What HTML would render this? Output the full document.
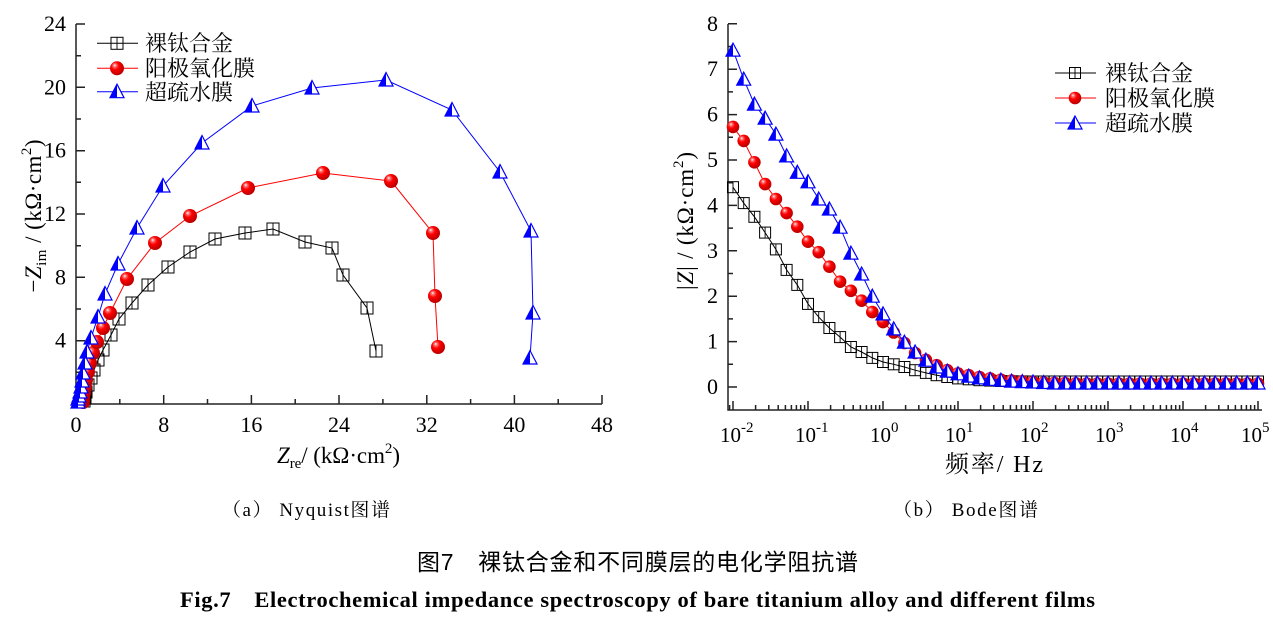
<!DOCTYPE html>
<html><head><meta charset="utf-8"><style>
html,body{margin:0;padding:0;background:#fff;overflow:hidden}
svg{display:block}
.ser{font-family:"Liberation Serif","Noto Serif CJK SC",serif}
.cjks{font-family:"Liberation Serif","Noto Serif CJK SC",serif}
.sans{font-family:"Liberation Sans","Noto Sans CJK SC",sans-serif}
</style></head><body>
<svg width="1273" height="619" viewBox="0 0 1273 619" xmlns="http://www.w3.org/2000/svg">
<defs>
<radialGradient id="rg" cx="0.4" cy="0.38" r="0.62" fx="0.33" fy="0.28">
<stop offset="0" stop-color="#ffffff"/><stop offset="0.18" stop-color="#ff7070"/><stop offset="0.45" stop-color="#ff0000"/><stop offset="1" stop-color="#b80000"/>
</radialGradient>
<g id="sqN"><rect x="-6" y="-6" width="12" height="12" fill="none" stroke="#000" stroke-width="1"/><path d="M0 -6V6" stroke="#000" stroke-width="0.9"/></g>
<g id="ciN"><circle r="7" fill="url(#rg)"/></g>
<g id="trN"><path d="M0 -7.5L7 6L-7 6Z" fill="#fff" stroke="#0000ff" stroke-width="1.2"/><path d="M0 -7.5L-7 6L0 6Z" fill="#0000ff"/></g>
<g id="sqB"><rect x="-5.5" y="-5.5" width="11" height="11" fill="none" stroke="#000" stroke-width="1"/><path d="M0 -5.5V5.5" stroke="#000" stroke-width="0.9"/></g>
<g id="ciB"><circle r="6.3" fill="url(#rg)"/></g>
<g id="trB"><path d="M0 -7L7 6L-7 6Z" fill="#fff" stroke="#0000ff" stroke-width="1.2"/><path d="M0 -7L-7 6L0 6Z" fill="#0000ff"/></g>
</defs>
<rect width="1273" height="619" fill="#fff"/>

<!-- ================= LEFT: Nyquist ================= -->
<g stroke="#222" stroke-width="1.5" fill="none">
<path d="M76 24V404H602"/>
<path d="M76 24h9M76 87.3h9M76 150.7h9M76 214h9M76 277.3h9M76 340.7h9"/>
<path d="M76 55.7h5M76 119h5M76 182.3h5M76 245.7h5M76 309h5M76 372.3h5"/>
<path d="M163.7 404v-9M251.4 404v-9M339 404v-9M426.8 404v-9M514.4 404v-9M602 404v-9"/>
<path d="M119.8 404v-5M207.5 404v-5M295.2 404v-5M382.9 404v-5M470.6 404v-5M558.2 404v-5"/>
</g>
<g class="ser" font-size="22" fill="#000" text-anchor="end">
<text x="66" y="31">24</text><text x="66" y="94.3">20</text><text x="66" y="157.7">16</text>
<text x="66" y="221">12</text><text x="66" y="284.3">8</text><text x="66" y="347.7">4</text>
</g>
<g class="ser" font-size="22" fill="#000" text-anchor="middle">
<text x="76" y="432">0</text><text x="163.7" y="432">8</text><text x="251.4" y="432">16</text>
<text x="339" y="432">24</text><text x="426.8" y="432">32</text><text x="514.4" y="432">40</text><text x="602" y="432">48</text>
</g>
<text class="ser" font-size="23" x="338.5" y="463" text-anchor="middle" textLength="123" lengthAdjust="spacing"><tspan font-style="italic">Z</tspan><tspan font-size="15" dy="5">re</tspan><tspan dy="-5">/ (kΩ·cm</tspan><tspan font-size="15" dy="-10">2</tspan><tspan dy="10">)</tspan></text>
<text class="ser" font-size="23" transform="translate(41,216) rotate(-90)" text-anchor="middle" textLength="153" lengthAdjust="spacing">−<tspan font-style="italic">Z</tspan><tspan font-size="15" dy="5">im</tspan><tspan dy="-5"> / (kΩ·cm</tspan><tspan font-size="15" dy="-10">2</tspan><tspan dy="10">)</tspan></text>

<!-- black -->
<polyline fill="none" stroke="#000" stroke-width="1" points="84,401 85,397 86,392 88,385 91,378 94,370 98,360 103,350 111,335 119,319 132,303 148,285 168,267 190,252 215,239 245,233 273,229 305,242 332,248 343,275 367,308 376,351"/>
<g>
<use href="#sqN" x="84" y="401"/><use href="#sqN" x="85" y="397"/><use href="#sqN" x="86" y="392"/><use href="#sqN" x="88" y="385"/><use href="#sqN" x="91" y="378"/><use href="#sqN" x="94" y="370"/><use href="#sqN" x="98" y="360"/><use href="#sqN" x="103" y="350"/><use href="#sqN" x="111" y="335"/><use href="#sqN" x="119" y="319"/><use href="#sqN" x="132" y="303"/><use href="#sqN" x="148" y="285"/><use href="#sqN" x="168" y="267"/><use href="#sqN" x="190" y="252"/><use href="#sqN" x="215" y="239"/><use href="#sqN" x="245" y="233"/><use href="#sqN" x="273" y="229"/><use href="#sqN" x="305" y="242"/><use href="#sqN" x="332" y="248"/><use href="#sqN" x="343" y="275"/><use href="#sqN" x="367" y="308"/><use href="#sqN" x="376" y="351"/>
</g>
<!-- red -->
<polyline fill="none" stroke="#ff0000" stroke-width="1" points="83,402 83,398 84,393 85,387 86,380 88,372 90,363 93,353 97,342 103,328 110,313 127,279 155,243 190,216 248,188 323,173 391,181 433,233 435,296 438,347"/>
<g>
<use href="#ciN" x="83" y="402"/><use href="#ciN" x="83" y="398"/><use href="#ciN" x="84" y="393"/><use href="#ciN" x="85" y="387"/><use href="#ciN" x="86" y="380"/><use href="#ciN" x="88" y="372"/><use href="#ciN" x="90" y="363"/><use href="#ciN" x="93" y="353"/><use href="#ciN" x="97" y="342"/><use href="#ciN" x="103" y="328"/><use href="#ciN" x="110" y="313"/><use href="#ciN" x="127" y="279"/><use href="#ciN" x="155" y="243"/><use href="#ciN" x="190" y="216"/><use href="#ciN" x="248" y="188"/><use href="#ciN" x="323" y="173"/><use href="#ciN" x="391" y="181"/><use href="#ciN" x="433" y="233"/><use href="#ciN" x="435" y="296"/><use href="#ciN" x="438" y="347"/>
</g>
<!-- blue -->
<polyline fill="none" stroke="#0000ff" stroke-width="1" points="78,402 78,399 79,396 80,392 81,387 82,381 83,373 85,363 87,352 91,338 98,317 105,294 118,264 137,228 163,186 202,143 252,106 312,88 386,80 452,110 500,172 531,231 533,313 530,358"/>
<g>
<use href="#trN" x="78" y="402"/><use href="#trN" x="78" y="399"/><use href="#trN" x="79" y="396"/><use href="#trN" x="80" y="392"/><use href="#trN" x="81" y="387"/><use href="#trN" x="82" y="381"/><use href="#trN" x="83" y="373"/><use href="#trN" x="85" y="363"/><use href="#trN" x="87" y="352"/><use href="#trN" x="91" y="338"/><use href="#trN" x="98" y="317"/><use href="#trN" x="105" y="294"/><use href="#trN" x="118" y="264"/><use href="#trN" x="137" y="228"/><use href="#trN" x="163" y="186"/><use href="#trN" x="202" y="143"/><use href="#trN" x="252" y="106"/><use href="#trN" x="312" y="88"/><use href="#trN" x="386" y="80"/><use href="#trN" x="452" y="110"/><use href="#trN" x="500" y="172"/><use href="#trN" x="531" y="231"/><use href="#trN" x="533" y="313"/><use href="#trN" x="530" y="358"/>
</g>
<!-- left legend -->
<path d="M97 43.3H138" stroke="#000" stroke-width="1"/><use href="#sqN" x="117" y="43.3"/>
<path d="M97 68.3H138" stroke="#ff0000" stroke-width="1"/><use href="#ciN" x="117" y="68.3"/>
<path d="M97 91.7H138" stroke="#0000ff" stroke-width="1"/><use href="#trN" x="117" y="91.7"/>
<g class="cjks" font-size="22" fill="#000">
<text x="145" y="51">裸钛合金</text><text x="145" y="76">阳极氧化膜</text><text x="145" y="100">超疏水膜</text>
</g>

<!-- ================= RIGHT: Bode ================= -->
<g stroke="#222" stroke-width="1.5" fill="none">
<path d="M728 24V410H1262"/>
<path d="M728 23.8h9M728 69.2h9M728 114.6h9M728 160h9M728 205.4h9M728 250.8h9M728 296.2h9M728 341.6h9M728 387h9"/>
<path d="M728 46.5h5M728 91.9h5M728 137.3h5M728 182.7h5M728 228.1h5M728 273.5h5M728 318.9h5M728 364.3h5"/>
<path d="M733 410v-9M808 410v-9M883 410v-9M958 410v-9M1033 410v-9M1108 410v-9M1183 410v-9M1258 410v-9"/>
<path d="M729.6 410v-5M755.6 410v-5M768.8 410v-5M778.2 410v-5M785.4 410v-5M791.4 410v-5M796.4 410v-5M800.7 410v-5M804.6 410v-5
M830.6 410v-5M843.8 410v-5M853.2 410v-5M860.4 410v-5M866.4 410v-5M871.4 410v-5M875.7 410v-5M879.6 410v-5
M905.6 410v-5M918.8 410v-5M928.2 410v-5M935.4 410v-5M941.4 410v-5M946.4 410v-5M950.7 410v-5M954.6 410v-5
M980.6 410v-5M993.8 410v-5M1003.2 410v-5M1010.4 410v-5M1016.4 410v-5M1021.4 410v-5M1025.7 410v-5M1029.6 410v-5
M1055.6 410v-5M1068.8 410v-5M1078.2 410v-5M1085.4 410v-5M1091.4 410v-5M1096.4 410v-5M1100.7 410v-5M1104.6 410v-5
M1130.6 410v-5M1143.8 410v-5M1153.2 410v-5M1160.4 410v-5M1166.4 410v-5M1171.4 410v-5M1175.7 410v-5M1179.6 410v-5
M1205.6 410v-5M1218.8 410v-5M1228.2 410v-5M1235.4 410v-5M1241.4 410v-5M1246.4 410v-5M1250.7 410v-5M1254.6 410v-5"/>
</g>
<g class="ser" font-size="22" fill="#000" text-anchor="end">
<text x="718" y="30.8">8</text><text x="718" y="76.2">7</text><text x="718" y="121.6">6</text><text x="718" y="167">5</text>
<text x="718" y="212.4">4</text><text x="718" y="257.8">3</text><text x="718" y="303.2">2</text><text x="718" y="348.6">1</text><text x="718" y="394">0</text>
</g>
<g class="ser" font-size="21" fill="#000">
<text x="720" y="442">10<tspan font-size="15" dy="-10">-2</tspan></text>
<text x="795" y="442">10<tspan font-size="15" dy="-10">-1</tspan></text>
<text x="870" y="442">10<tspan font-size="15" dy="-10">0</tspan></text>
<text x="945" y="442">10<tspan font-size="15" dy="-10">1</tspan></text>
<text x="1020" y="442">10<tspan font-size="15" dy="-10">2</tspan></text>
<text x="1095" y="442">10<tspan font-size="15" dy="-10">3</tspan></text>
<text x="1170" y="442">10<tspan font-size="15" dy="-10">4</tspan></text>
<text x="1241" y="442">10<tspan font-size="15" dy="-10">5</tspan></text>
</g>
<text class="ser" font-size="24" x="994" y="472" text-anchor="middle" textLength="98" lengthAdjust="spacing">频率/ Hz</text>
<text class="ser" font-size="23" transform="translate(693,221) rotate(-90)" text-anchor="middle" textLength="138" lengthAdjust="spacing">|<tspan font-style="italic">Z</tspan>| / (kΩ·cm<tspan font-size="15" dy="-10">2</tspan><tspan dy="10">)</tspan></text>

<!-- black bode -->
<polyline fill="none" stroke="#000" stroke-width="1" points="733,187.2 743.7,203.1 754.4,216.8 765.1,232.6 775.9,249.4 786.6,269.9 797.3,284.9 808,303.9 818.7,317.1 829.4,328 840.1,337.1 850.9,347 861.6,352 872.3,357.9 883,362 893.7,364.3 904.4,367 915.1,370.2 925.9,372.9 936.6,375.2 947.3,377 958,378.4 968.7,379.3 979.4,380.2 990.1,380.6 1000.9,381 1011.6,381.3 1022.3,381.4 1033,381.5 1258,381.5"/>
<g>
<use href="#sqB" x="733" y="187.2"/><use href="#sqB" x="743.7" y="203.1"/><use href="#sqB" x="754.4" y="216.8"/><use href="#sqB" x="765.1" y="232.6"/><use href="#sqB" x="775.9" y="249.4"/><use href="#sqB" x="786.6" y="269.9"/><use href="#sqB" x="797.3" y="284.9"/><use href="#sqB" x="808" y="303.9"/><use href="#sqB" x="818.7" y="317.1"/><use href="#sqB" x="829.4" y="328"/><use href="#sqB" x="840.1" y="337.1"/><use href="#sqB" x="850.9" y="347"/><use href="#sqB" x="861.6" y="352"/><use href="#sqB" x="872.3" y="357.9"/><use href="#sqB" x="883" y="362"/><use href="#sqB" x="893.7" y="364.3"/><use href="#sqB" x="904.4" y="367"/><use href="#sqB" x="915.1" y="370.2"/><use href="#sqB" x="925.9" y="372.9"/><use href="#sqB" x="936.6" y="375.2"/><use href="#sqB" x="947.3" y="377"/><use href="#sqB" x="958" y="378.4"/><use href="#sqB" x="968.7" y="379.3"/><use href="#sqB" x="979.4" y="380.2"/><use href="#sqB" x="990.1" y="380.6"/><use href="#sqB" x="1000.9" y="381"/><use href="#sqB" x="1011.6" y="381.3"/><use href="#sqB" x="1022.3" y="381.4"/><use href="#sqB" x="1033" y="381.5"/><use href="#sqB" x="1043.7" y="381.5"/><use href="#sqB" x="1054.4" y="381.5"/><use href="#sqB" x="1065.1" y="381.5"/><use href="#sqB" x="1075.9" y="381.5"/><use href="#sqB" x="1086.6" y="381.5"/><use href="#sqB" x="1097.3" y="381.5"/><use href="#sqB" x="1108" y="381.5"/><use href="#sqB" x="1118.7" y="381.5"/><use href="#sqB" x="1129.4" y="381.5"/><use href="#sqB" x="1140.1" y="381.5"/><use href="#sqB" x="1150.9" y="381.5"/><use href="#sqB" x="1161.6" y="381.5"/><use href="#sqB" x="1172.3" y="381.5"/><use href="#sqB" x="1183" y="381.5"/><use href="#sqB" x="1193.7" y="381.5"/><use href="#sqB" x="1204.4" y="381.5"/><use href="#sqB" x="1215.1" y="381.5"/><use href="#sqB" x="1225.9" y="381.5"/><use href="#sqB" x="1236.6" y="381.5"/><use href="#sqB" x="1247.3" y="381.5"/><use href="#sqB" x="1258" y="381.5"/>
</g>
<!-- red bode -->
<polyline fill="none" stroke="#ff0000" stroke-width="1" points="733,126.9 743.7,140.9 754.4,162.3 765.1,184.1 775.9,199 786.6,213.1 797.3,226.7 808,241.7 818.7,252.2 829.4,266.7 840.1,281.7 850.9,290.8 861.6,300.7 872.3,312.1 883,322.1 893.7,332.5 904.4,343 915.1,353 925.9,359.8 936.6,365.2 947.3,370.2 958,373.4 968.7,375.2 979.4,377 990.1,378.4 1000.9,379.7 1011.6,380.6 1022.3,381.3 1033,382 1043.7,382.5 1054.4,382.9 1065.1,383.1 1075.9,383.3 1258,383.5"/>
<g>
<use href="#ciB" x="733" y="126.9"/><use href="#ciB" x="743.7" y="140.9"/><use href="#ciB" x="754.4" y="162.3"/><use href="#ciB" x="765.1" y="184.1"/><use href="#ciB" x="775.9" y="199"/><use href="#ciB" x="786.6" y="213.1"/><use href="#ciB" x="797.3" y="226.7"/><use href="#ciB" x="808" y="241.7"/><use href="#ciB" x="818.7" y="252.2"/><use href="#ciB" x="829.4" y="266.7"/><use href="#ciB" x="840.1" y="281.7"/><use href="#ciB" x="850.9" y="290.8"/><use href="#ciB" x="861.6" y="300.7"/><use href="#ciB" x="872.3" y="312.1"/><use href="#ciB" x="883" y="322.1"/><use href="#ciB" x="893.7" y="332.5"/><use href="#ciB" x="904.4" y="343"/><use href="#ciB" x="915.1" y="353"/><use href="#ciB" x="925.9" y="359.8"/><use href="#ciB" x="936.6" y="365.2"/><use href="#ciB" x="947.3" y="370.2"/><use href="#ciB" x="958" y="373.4"/><use href="#ciB" x="968.7" y="375.2"/><use href="#ciB" x="979.4" y="377"/><use href="#ciB" x="990.1" y="378.4"/><use href="#ciB" x="1000.9" y="379.7"/><use href="#ciB" x="1011.6" y="380.6"/><use href="#ciB" x="1022.3" y="381.3"/><use href="#ciB" x="1033" y="382"/><use href="#ciB" x="1043.7" y="382.5"/><use href="#ciB" x="1054.4" y="382.9"/><use href="#ciB" x="1065.1" y="383.1"/><use href="#ciB" x="1075.9" y="383.3"/><use href="#ciB" x="1086.6" y="383.5"/><use href="#ciB" x="1097.3" y="383.5"/><use href="#ciB" x="1108" y="383.5"/><use href="#ciB" x="1118.7" y="383.5"/><use href="#ciB" x="1129.4" y="383.5"/><use href="#ciB" x="1140.1" y="383.5"/><use href="#ciB" x="1150.9" y="383.5"/><use href="#ciB" x="1161.6" y="383.5"/><use href="#ciB" x="1172.3" y="383.5"/><use href="#ciB" x="1183" y="383.5"/><use href="#ciB" x="1193.7" y="383.5"/><use href="#ciB" x="1204.4" y="383.5"/><use href="#ciB" x="1215.1" y="383.5"/><use href="#ciB" x="1225.9" y="383.5"/><use href="#ciB" x="1236.6" y="383.5"/><use href="#ciB" x="1247.3" y="383.5"/><use href="#ciB" x="1258" y="383.5"/>
</g>
<!-- blue bode -->
<polyline fill="none" stroke="#0000ff" stroke-width="1" points="733,50.1 743.7,79.2 754.4,104.2 765.1,118.2 775.9,134.1 786.6,155.9 797.3,172.3 808,181.8 818.7,199 829.4,209 840.1,227.2 850.9,253.1 861.6,274 872.3,296.2 883,313.9 893.7,328.9 904.4,342.1 915.1,352 925.9,360.2 936.6,367 947.3,371.1 958,373.8 968.7,376.1 979.4,377.9 990.1,379.3 1000.9,380.2 1011.6,381.1 1022.3,381.6 1033,382 1043.7,382.5 1054.4,383 1258,383"/>
<g>
<use href="#trB" x="733" y="50.1"/><use href="#trB" x="743.7" y="79.2"/><use href="#trB" x="754.4" y="104.2"/><use href="#trB" x="765.1" y="118.2"/><use href="#trB" x="775.9" y="134.1"/><use href="#trB" x="786.6" y="155.9"/><use href="#trB" x="797.3" y="172.3"/><use href="#trB" x="808" y="181.8"/><use href="#trB" x="818.7" y="199"/><use href="#trB" x="829.4" y="209"/><use href="#trB" x="840.1" y="227.2"/><use href="#trB" x="850.9" y="253.1"/><use href="#trB" x="861.6" y="274"/><use href="#trB" x="872.3" y="296.2"/><use href="#trB" x="883" y="313.9"/><use href="#trB" x="893.7" y="328.9"/><use href="#trB" x="904.4" y="342.1"/><use href="#trB" x="915.1" y="352"/><use href="#trB" x="925.9" y="360.2"/><use href="#trB" x="936.6" y="367"/><use href="#trB" x="947.3" y="371.1"/><use href="#trB" x="958" y="373.8"/><use href="#trB" x="968.7" y="376.1"/><use href="#trB" x="979.4" y="377.9"/><use href="#trB" x="990.1" y="379.3"/><use href="#trB" x="1000.9" y="380.2"/><use href="#trB" x="1011.6" y="381.1"/><use href="#trB" x="1022.3" y="381.6"/><use href="#trB" x="1033" y="382"/><use href="#trB" x="1043.7" y="382.5"/><use href="#trB" x="1054.4" y="383"/><use href="#trB" x="1065.1" y="383"/><use href="#trB" x="1075.9" y="383"/><use href="#trB" x="1086.6" y="383"/><use href="#trB" x="1097.3" y="383"/><use href="#trB" x="1108" y="383"/><use href="#trB" x="1118.7" y="383"/><use href="#trB" x="1129.4" y="383"/><use href="#trB" x="1140.1" y="383"/><use href="#trB" x="1150.9" y="383"/><use href="#trB" x="1161.6" y="383"/><use href="#trB" x="1172.3" y="383"/><use href="#trB" x="1183" y="383"/><use href="#trB" x="1193.7" y="383"/><use href="#trB" x="1204.4" y="383"/><use href="#trB" x="1215.1" y="383"/><use href="#trB" x="1225.9" y="383"/><use href="#trB" x="1236.6" y="383"/><use href="#trB" x="1247.3" y="383"/><use href="#trB" x="1258" y="383"/>
</g>
<!-- right legend -->
<path d="M1055 73H1096" stroke="#000" stroke-width="1"/><use href="#sqB" x="1075" y="73"/>
<path d="M1055 98H1096" stroke="#ff0000" stroke-width="1"/><use href="#ciB" x="1075" y="98"/>
<path d="M1055 123H1096" stroke="#0000ff" stroke-width="1"/><use href="#trB" x="1075" y="123"/>
<g class="cjks" font-size="22" fill="#000">
<text x="1105" y="81">裸钛合金</text><text x="1105" y="106">阳极氧化膜</text><text x="1105" y="131">超疏水膜</text>
</g>

<!-- ================= CAPTIONS ================= -->
<text class="ser" font-size="19" x="222" y="516" textLength="168" lengthAdjust="spacing">（a） Nyquist图谱</text>
<text class="ser" font-size="19" x="893" y="516" textLength="145" lengthAdjust="spacing">（b） Bode图谱</text>
<text class="sans" font-size="23" x="417" y="570" textLength="441" lengthAdjust="spacing">图7　裸钛合金和不同膜层的电化学阻抗谱</text>
<text class="ser" font-size="22.5" font-weight="bold" x="180" y="607" textLength="915" lengthAdjust="spacing">Fig.7　Electrochemical impedance spectroscopy of bare titanium alloy and different films</text>
</svg>
</body></html>
